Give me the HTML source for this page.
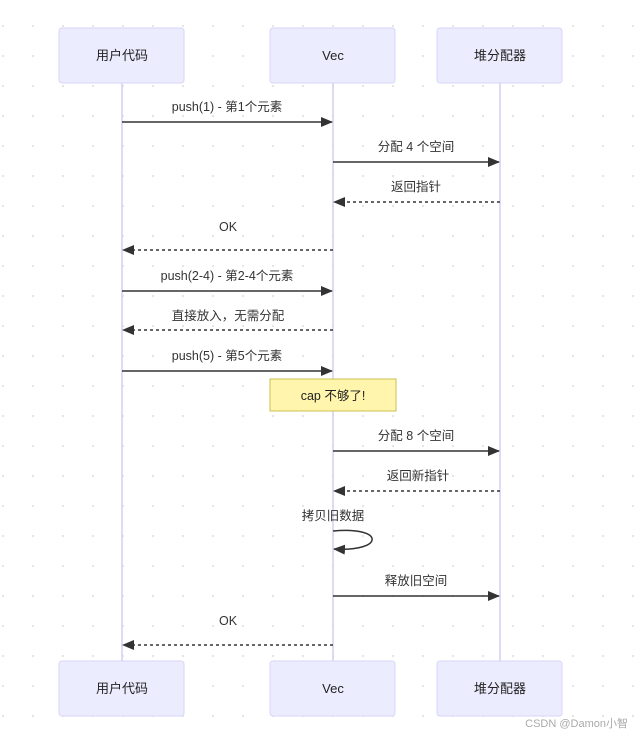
<!DOCTYPE html>
<html><head><meta charset="utf-8"><style>
body{margin:0;background:#fff;}
svg{display:block;font-family:"Liberation Sans","Noto Sans CJK SC",sans-serif;}
</style></head><body>
<svg width="635" height="735" viewBox="0 0 635 735">
<defs>
<pattern id="d" x="2" y="25" width="30" height="30" patternUnits="userSpaceOnUse"><circle cx="1" cy="1" r="1.1" fill="#e2e2e2"/></pattern>
<marker id="a" markerWidth="12" markerHeight="10" refX="11" refY="5" orient="auto" markerUnits="userSpaceOnUse"><path d="M0,0 L12,5 L0,10z" fill="#333"/></marker>
</defs>
<rect width="635" height="735" fill="url(#d)"/>
<g stroke="#d4d0f0" stroke-width="1.5">
<line x1="122" y1="83" x2="122" y2="661"/><line x1="333" y1="83" x2="333" y2="661"/><line x1="500" y1="83" x2="500" y2="661"/>
</g>
<g fill="#ececff" stroke="#d9d5f5" stroke-width="1">
<rect x="59" y="28" width="125" height="55" rx="3"/><rect x="270" y="28" width="125" height="55" rx="3"/><rect x="437" y="28" width="125" height="55" rx="3"/>
<rect x="59" y="661" width="125" height="55" rx="3"/><rect x="270" y="661" width="125" height="55" rx="3"/><rect x="437" y="661" width="125" height="55" rx="3"/>
</g>
<g font-size="13" fill="#222" text-anchor="middle">
<text x="122" y="60">用户代码</text><text x="333" y="60">Vec</text><text x="500" y="60">堆分配器</text>
<text x="122" y="693">用户代码</text><text x="333" y="693">Vec</text><text x="500" y="693">堆分配器</text>
</g>
<g stroke="#333" stroke-width="1.5" fill="none" marker-end="url(#a)">
<line x1="122" y1="122" x2="332" y2="122"/>
<line x1="333" y1="162" x2="499" y2="162"/>
<line x1="500" y1="202" x2="334" y2="202" stroke-dasharray="3,3"/>
<line x1="333" y1="250" x2="123" y2="250" stroke-dasharray="3,3"/>
<line x1="122" y1="291" x2="332" y2="291"/>
<line x1="333" y1="330" x2="123" y2="330" stroke-dasharray="3,3"/>
<line x1="122" y1="371" x2="332" y2="371"/>
<line x1="333" y1="451" x2="499" y2="451"/>
<line x1="500" y1="491" x2="334" y2="491" stroke-dasharray="3,3"/>
<path d="M333,531 C385,526 385,552 334,549"/>
<line x1="333" y1="596" x2="499" y2="596"/>
<line x1="333" y1="645" x2="123" y2="645" stroke-dasharray="3,3"/>
</g>
<rect x="270" y="379" width="126" height="32" fill="#fff5ad" stroke="#c8c050"/>
<g font-size="12.5" fill="#333" text-anchor="middle">
<text x="227" y="111">push(1) - 第1个元素</text>
<text x="416" y="151">分配 4 个空间</text>
<text x="416" y="191">返回指针</text>
<text x="228" y="231">OK</text>
<text x="227" y="280">push(2-4) - 第2-4个元素</text>
<text x="228" y="320">直接放入，无需分配</text>
<text x="227" y="360">push(5) - 第5个元素</text>
<text x="333" y="400" fill="#222">cap 不够了!</text>
<text x="416" y="440">分配 8 个空间</text>
<text x="418" y="480">返回新指针</text>
<text x="333" y="520">拷贝旧数据</text>
<text x="416" y="585">释放旧空间</text>
<text x="228" y="625">OK</text>
</g>
<text x="628" y="727" font-size="11" fill="#aaa" text-anchor="end">CSDN @Damon小智</text>
</svg>
</body></html>
